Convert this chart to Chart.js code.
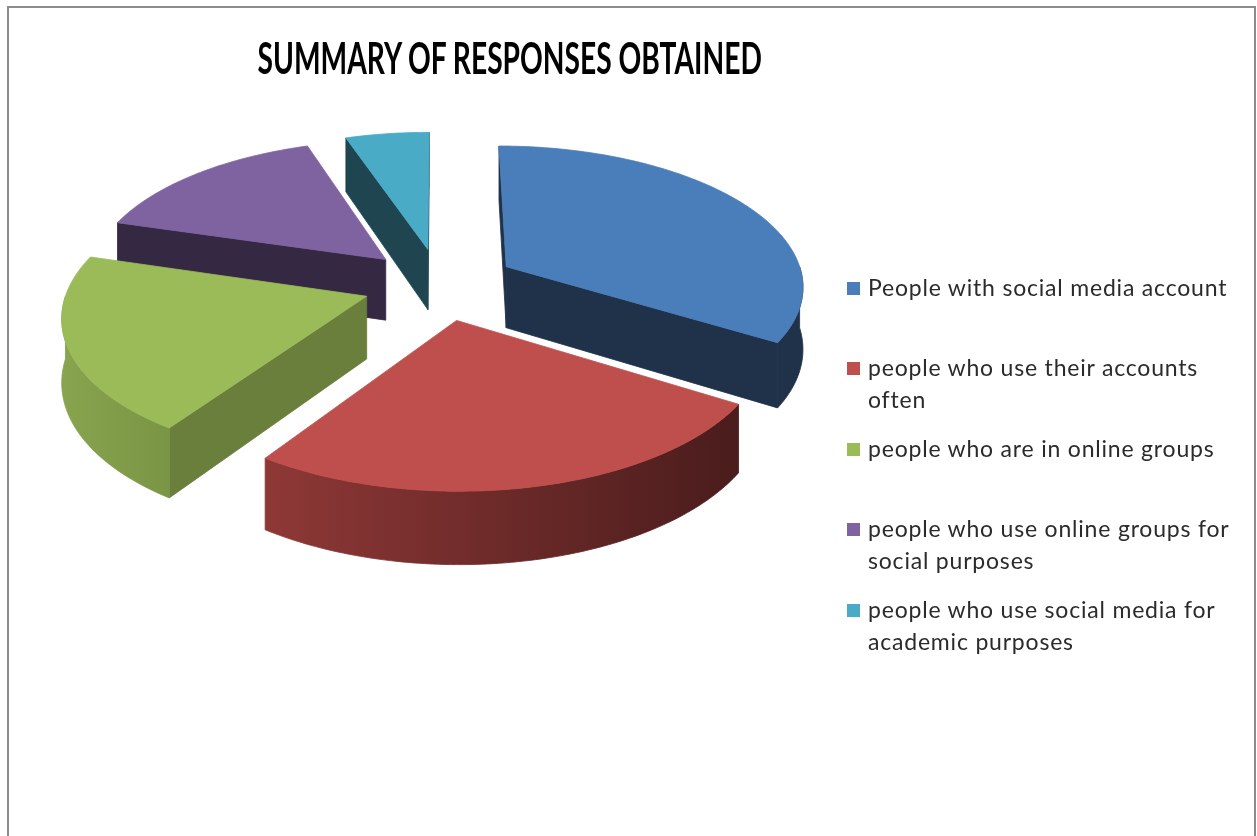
<!DOCTYPE html>
<html>
<head>
<meta charset="utf-8">
<script src="https://cdn.jsdelivr.net/npm/chart.js@4.4.1/dist/chart.umd.min.js"></script>
<style>
  html, body { margin: 0; padding: 0; background: #fff; overflow: hidden; }
  #wrap { position: relative; width: 1257px; height: 836px; overflow: hidden; background: #fff; }
  #frame { position: absolute; left: 7px; top: 6px; width: 1245px; height: 900px; border: 2px solid #8c8c8c; }
  #pie { position: absolute; left: 0; top: 0; }
  #title { position: absolute; left: 0; top: 36px; width: 1020px; text-align: center;
           font: bold 43px Lato, "Open Sans", sans-serif; line-height: 43px; color: #000; white-space: nowrap; }
  #title span { display: inline-block; transform-origin: 50% 50%; }
  .item { position: absolute; left: 847px; width: 392px; font: 23px Lato, "Open Sans", sans-serif;
          letter-spacing: 0.8px; line-height: 32px; color: #2b2b2b; }
  .item i { position: absolute; left: 0; top: 11px; width: 13px; height: 13px; }
  .item span { display: block; margin-left: 21px; }
</style>
</head>
<body>
<div id="wrap">
  <div id="frame"></div>
  <canvas id="pie" width="1257" height="836"></canvas>
  <div id="title"><span></span></div>
  <div id="legend"></div>
</div>
<script>
// --- data ---
const TITLE = "SUMMARY OF RESPONSES OBTAINED";
const LABELS = [
  "People with social media account",
  "people who use their accounts often",
  "people who are in online groups",
  "people who use online groups for social purposes",
  "people who use social media for academic purposes",
];
const VALUES = [33.8, 25.7, 20.1, 15.2, 5.2];

// --- colours (top face / cut faces / outer wall gradient) ---
const TOP_COLORS  = ["#4a7ebb", "#be4f4c", "#9bbb59", "#7f63a1", "#4aabc6"];
const SIDE_COLORS = ["#1f3249", "#4b1d1d", "#6a7f3c", "#352842", "#1e4550"];
const WALL_LEFT   = ["#1f3249", "#8e3836", "#88a44e", "#352842", "#1e4550"];
const WALL_RIGHT  = ["#1f3249", "#4a1c1c", "#7a9545", "#352842", "#1e4550"];

// --- 3D look ---
const TILT = 0.4687;  // squash of the pie plane
const PERSP = 2400;   // camera distance (perspective)
const DEPTH = 62;     // slab thickness
const TITLE_WIDTH = 504;
const LEGEND_TOP = 270.5;
const LEGEND_STEP = 80.5;

// 平面座標 (X,Z) + 厚み d を画面へ
function proj(c, X, Z, d) {
  const p = PERSP / (PERSP - Z);
  return [c.x + X * p, c.y + (Z * TILT + d) * p];
}
const rim = (sl, a, d) => proj(sl, sl.ox + sl.r * Math.cos(a), sl.oz + sl.r * Math.sin(a), d);
const apex = (sl, d) => proj(sl, sl.ox, sl.oz, d);

function arcPts(sl, a0, a1, d) {
  const n = Math.max(2, Math.ceil(Math.abs(a1 - a0) / (Math.PI / 180)));
  const pts = [];
  for (let k = 0; k <= n; k++) pts.push(rim(sl, a0 + (a1 - a0) * k / n, d));
  return pts;
}

function area(pts) {
  let s = 0;
  for (let k = 0; k < pts.length; k++) {
    const [x1, y1] = pts[k], [x2, y2] = pts[(k + 1) % pts.length];
    s += x1 * y2 - x2 * y1;
  }
  return s / 2;
}

function fillPoly(ctx, pts, style) {
  ctx.beginPath();
  pts.forEach(([x, y], k) => (k ? ctx.lineTo(x, y) : ctx.moveTo(x, y)));
  ctx.closePath();
  ctx.fillStyle = style;
  ctx.strokeStyle = style;
  ctx.lineWidth = 0.8;
  ctx.lineJoin = "round";
  ctx.fill();
  ctx.stroke();
}

const pie3d = {
  id: "pie3d",
  beforeDatasetsDraw(chart) {
    const ctx = chart.ctx;
    const meta = chart.getDatasetMeta(0);
    const slices = meta.data.map((arc, i) => {
      const { x, y, startAngle, endAngle, outerRadius } =
        arc.getProps(["x", "y", "startAngle", "endAngle", "outerRadius"], true);
      const off = arc.options.offset || 0;
      const mid = (startAngle + endAngle) / 2;
      return { i, x, y, s: startAngle, e: endAngle, r: outerRadius,
               ox: Math.cos(mid) * off, oz: Math.sin(mid) * off };
    });

    ctx.save();
    // sides: back slices first
    [...slices].sort((a, b) => a.oz - b.oz).forEach((sl) => {
      const startFace = [apex(sl, 0), rim(sl, sl.s, 0), rim(sl, sl.s, DEPTH), apex(sl, DEPTH)];
      const endFace = [rim(sl, sl.e, 0), apex(sl, 0), apex(sl, DEPTH), rim(sl, sl.e, DEPTH)];
      if (area(startFace) < 0) fillPoly(ctx, startFace, SIDE_COLORS[sl.i]);
      if (area(endFace) < 0) fillPoly(ctx, endFace, SIDE_COLORS[sl.i]);

      // outer wall, front half only
      const a0 = Math.max(sl.s, 0), a1 = Math.min(sl.e, Math.PI);
      if (a1 > a0) {
        const wall = arcPts(sl, a0, a1, 0).concat(arcPts(sl, a1, a0, DEPTH));
        const xs = wall.map((p) => p[0]);
        const g = ctx.createLinearGradient(Math.min(...xs), 0, Math.max(...xs), 0);
        g.addColorStop(0, WALL_LEFT[sl.i]);
        g.addColorStop(1, WALL_RIGHT[sl.i]);
        fillPoly(ctx, wall, g);
      }
    });
    // top faces
    slices.forEach((sl) => {
      const top = [apex(sl, 0)].concat(arcPts(sl, sl.s, sl.e, 0));
      fillPoly(ctx, top, TOP_COLORS[sl.i]);
    });
    ctx.restore();
    return false; // 平面の円は描かない
  },
};

new Chart(document.getElementById("pie"), {
  type: "pie",
  data: {
    labels: LABELS,
    datasets: [{
      data: VALUES,
      backgroundColor: TOP_COLORS,
      borderWidth: 0,
      offset: 77,
      hoverOffset: 0,
      radius: 298,
    }],
  },
  options: {
    responsive: false,
    animation: false,
    events: [],
    layout: { padding: { left: 0, top: 0, right: 377, bottom: 268 } },
    plugins: {
      legend: { display: false },
      title: { display: false },
      tooltip: { enabled: false },
    },
  },
  plugins: [pie3d],
});

// title
const tspan = document.querySelector("#title span");
tspan.textContent = TITLE;
tspan.style.transform = `scaleX(${TITLE_WIDTH / tspan.offsetWidth})`;

// legend
const legend = document.getElementById("legend");
LABELS.forEach((t, i) => {
  const d = document.createElement("div");
  d.className = "item";
  d.style.top = (LEGEND_TOP + i * LEGEND_STEP) + "px";
  const sq = document.createElement("i");
  sq.style.background = TOP_COLORS[i];
  const tx = document.createElement("span");
  tx.textContent = t;
  d.appendChild(sq);
  d.appendChild(tx);
  legend.appendChild(d);
});
</script>
</body>
</html>
